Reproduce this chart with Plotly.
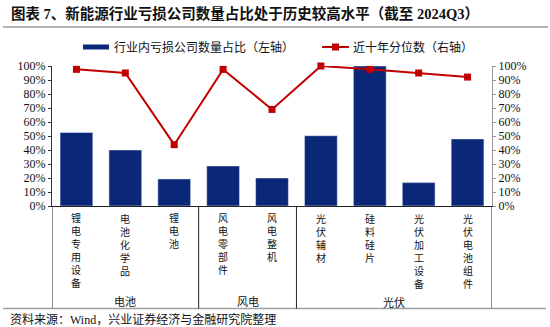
import plotly.graph_objects as go

categories = ["锂电专用设备", "电池化学品", "锂电池", "风电零部件", "风电整机",
              "光伏辅材", "硅料硅片", "光伏加工设备", "光伏电池组件"]
loss_share = [0.525, 0.40, 0.193, 0.286, 0.20, 0.502, 1.00, 0.167, 0.479]
percentile = [0.976, 0.95, 0.438, 0.976, 0.69, 1.00, 0.976, 0.95, 0.921]
groups = ["电池", "风电", "光伏"]
group_bounds = [(-0.5, 2.5), (2.5, 4.5), (4.5, 8.5)]
yticks = [i / 10 for i in range(11)]
ytick_text = [f"{i*10}%" for i in range(11)]

title_text = "图表 7、新能源行业亏损公司数量占比处于历史较高水平（截至 2024Q3）"
source_text = "资料来源：Wind，兴业证券经济与金融研究院整理"
legend_names = ["行业内亏损公司数量占比（左轴）", "近十年分位数（右轴）"]

FONT = "Liberation Serif, Noto Sans CJK SC"
BAR_COLOR = "#0b2878"
LINE_COLOR = "#c00000"

Wpx, Hpx = 550, 327
L, R, T, B = 52, 492, 66, 206
PW, PH = R - L, B - T


def px(p):
    return (p - L) / PW


def py(p):
    return (B - p) / PH


fig = go.Figure()
fig.add_trace(go.Bar(x=categories, y=loss_share, marker_color=BAR_COLOR,
                     width=0.67, name=legend_names[0], showlegend=False))
fig.add_trace(go.Scatter(x=categories, y=percentile, yaxis="y2", mode="lines+markers",
                         line=dict(color=LINE_COLOR, width=2),
                         marker=dict(symbol="square", size=7, color=LINE_COLOR),
                         cliponaxis=False, name=legend_names[1], showlegend=False))

shapes = []
annotations = []

# title and separators
annotations.append(dict(text=f"<b>{title_text}</b>", xref="paper", yref="paper",
                        x=px(9), y=py(13), xanchor="left", yanchor="middle",
                        showarrow=False, font=dict(family=FONT, size=14.5, color="#111")))
shapes.append(dict(type="line", xref="paper", yref="paper", x0=px(3), x1=px(548),
                   y0=py(27), y1=py(27), line=dict(color="#9a9a9a", width=1.5)))
shapes.append(dict(type="line", xref="paper", yref="paper", x0=px(3), x1=px(546),
                   y0=py(308.5), y1=py(308.5), line=dict(color="#a0a0a0", width=1.5)))
annotations.append(dict(text=source_text, xref="paper", yref="paper",
                        x=px(8), y=py(319), xanchor="left", yanchor="middle",
                        showarrow=False, font=dict(family=FONT, size=12, color="#111")))

# legend
shapes.append(dict(type="rect", xref="paper", yref="paper", x0=px(83), x1=px(109),
                   y0=py(44.5), y1=py(49.5), fillcolor=BAR_COLOR, line=dict(width=0)))
annotations.append(dict(text=legend_names[0], xref="paper", yref="paper",
                        x=px(112), y=py(47), xanchor="left", yanchor="middle",
                        showarrow=False, font=dict(family=FONT, size=12, color="#111")))
shapes.append(dict(type="line", xref="paper", yref="paper", x0=px(322), x1=px(349),
                   y0=py(47), y1=py(47), line=dict(color=LINE_COLOR, width=2)))
shapes.append(dict(type="rect", xref="paper", yref="paper", x0=px(332), x1=px(339),
                   y0=py(43.5), y1=py(50.5), fillcolor=LINE_COLOR, line=dict(width=0)))
annotations.append(dict(text=legend_names[1], xref="paper", yref="paper",
                        x=px(351), y=py(47), xanchor="left", yanchor="middle",
                        showarrow=False, font=dict(family=FONT, size=12, color="#111")))

# category labels (vertical)
for c in categories:
    annotations.append(dict(text="<br>".join(list(c)), xref="x", yref="paper",
                            x=c, y=py(211), xanchor="center", yanchor="top",
                            showarrow=False, align="center",
                            font=dict(family=FONT, size=10, color="#111")))

# group boxes and labels
edges = sorted(set([b for g in group_bounds for b in g]))
for e in edges:
    shapes.append(dict(type="line", xref="x", yref="paper", x0=e, x1=e,
                       y0=0, y1=py(308.5), line=dict(color="#222", width=1)))
for g, (a, b) in zip(groups, group_bounds):
    annotations.append(dict(text=g, xref="x", yref="paper", x=(a + b) / 2, y=py(302),
                            xanchor="center", yanchor="middle", showarrow=False,
                            font=dict(family=FONT, size=11, color="#111")))

fig.update_layout(
    width=Wpx, height=Hpx,
    margin=dict(l=L, r=Wpx - R, t=T, b=Hpx - B),
    paper_bgcolor="white", plot_bgcolor="white",
    font=dict(family=FONT, size=12, color="#111"),
    xaxis=dict(range=[-0.5, 8.5], showticklabels=False, ticks="", showgrid=False,
               showline=True, linecolor="#222", linewidth=1, zeroline=False),
    yaxis=dict(range=[0, 1], tickvals=yticks, ticktext=ytick_text, showgrid=False,
               showline=True, linecolor="#333", linewidth=1, ticks="outside",
               ticklen=3, tickcolor="#333", zeroline=False,
               tickfont=dict(family="Liberation Serif", size=12, color="#111")),
    yaxis2=dict(range=[0, 1], overlaying="y", side="right", tickvals=yticks,
                ticktext=ytick_text, showgrid=False, showline=True,
                linecolor="#999", linewidth=1, ticks="outside", ticklen=3,
                tickcolor="#999", zeroline=False,
                tickfont=dict(family="Liberation Serif", size=12, color="#111")),
    shapes=shapes, annotations=annotations, showlegend=False, bargap=0.33,
)

fig.write_html("out.html")
